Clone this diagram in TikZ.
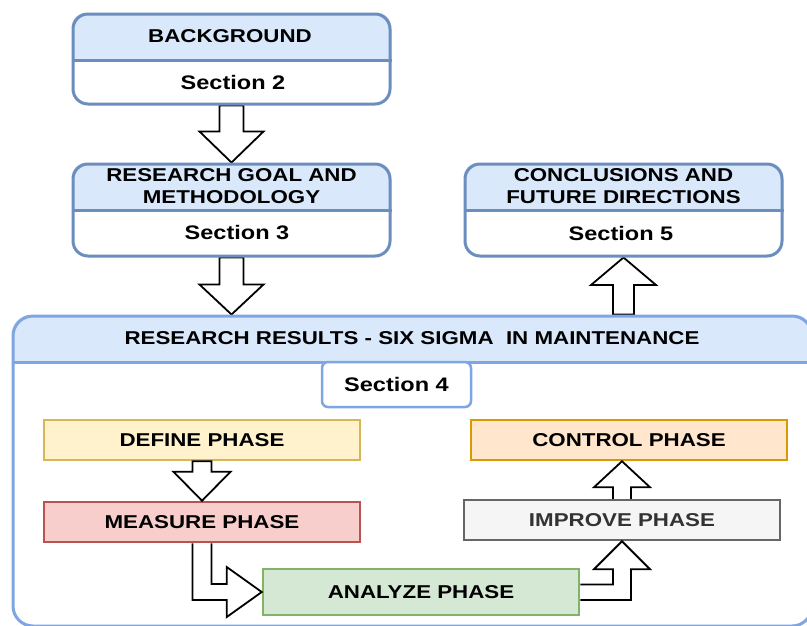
\documentclass[tikz,border=0pt]{standalone}
\usepackage{fontspec}
\setmainfont{Liberation Sans}[FakeStretch=1.2]
\usetikzlibrary{calc}
\definecolor{hdr}{HTML}{DAE8FC}
\definecolor{bst}{HTML}{6C8EBF}
\definecolor{bstb}{HTML}{7EA6E0}
\definecolor{defF}{HTML}{FFF2CC}\definecolor{defD}{HTML}{D6B656}
\definecolor{ctlF}{HTML}{FFE6CC}\definecolor{ctlD}{HTML}{D79B00}
\definecolor{meaF}{HTML}{F8CECC}\definecolor{meaD}{HTML}{B85450}
\definecolor{impF}{HTML}{F5F5F5}\definecolor{impD}{HTML}{666666}
\definecolor{anaF}{HTML}{D5E8D4}\definecolor{anaD}{HTML}{82B366}
\pgfdeclarelayer{back}
\pgfdeclarelayer{arrows}
\pgfsetlayers{back,arrows,main}
\newcommand\headfill[3]{% node, divider y, radius
  \begin{pgfonlayer}{back}
    \begin{scope}
      \clip[rounded corners=#3] (#1.north west) rectangle (#1.south east);
      \fill[white] (#1.north west) rectangle (#1.south east);
      \fill[hdr] (#1.north west) rectangle (#1.east |- 0,#2);
    \end{scope}
  \end{pgfonlayer}}
\begin{document}
\begin{tikzpicture}[x=1pt,y=-1pt,
  lbl/.style={font=\bfseries\fontsize{18.6}{22}\selectfont, align=center, inner sep=0},
  sec/.style={font=\bfseries\fontsize{19.6}{22}\selectfont, inner sep=0},
  frame/.style={draw=bst, line width=3pt, rounded corners=15pt, inner sep=0},
  phase/.style={line width=2.5pt, minimum width=316pt, minimum height=40pt, inner sep=0,
    font=\bfseries\fontsize{18.6}{22}\selectfont},
  blk/.style={draw=black, line width=1.8pt, fill=white, line join=miter}]
\clip (0,0) rectangle (807,625);
% top boxes
\node[frame, minimum width=317pt, minimum height=90pt] (bg) at (231.5,59) {};
\node[frame, minimum width=317pt, minimum height=92pt] (rg) at (231.5,210) {};
\node[frame, minimum width=317pt, minimum height=92pt] (cf) at (623.5,210) {};
\headfill{bg}{60}{15pt}
\headfill{rg}{210}{15pt}
\headfill{cf}{210}{15pt}
\draw[bst, line width=3pt] (bg.west |- 0,60) -- (bg.east |- 0,60);
\draw[bst, line width=3pt] (rg.west |- 0,210) -- (rg.east |- 0,210);
\draw[bst, line width=3pt] (cf.west |- 0,210) -- (cf.east |- 0,210);
\node[lbl] (bgt) at (230,36) {BACKGROUND};
\node[sec] (bgs) at (233,82) {Section 2};
\node[lbl] (rgt) at (231.5,186) {RESEARCH GOAL AND\\METHODOLOGY};
\node[sec] (rgs) at (237,233) {Section 3};
\node[lbl] (cft) at (623.5,186) {CONCLUSIONS AND\\FUTURE DIRECTIONS};
\node[sec] (cfs) at (621,233) {Section 5};
% big box
\node[draw=bstb, line width=3pt, rounded corners=20pt, inner sep=0,
  minimum width=799pt, minimum height=310pt] (rr) at (412.5,471) {};
\headfill{rr}{362}{20pt}
\draw[bstb, line width=3pt] (rr.west |- 0,362) -- (rr.east |- 0,362);
\node[lbl] (rrt) at (412,338) {RESEARCH RESULTS - SIX SIGMA \ IN MAINTENANCE};
\node[draw=bstb, line width=2.5pt, rounded corners=6pt, fill=white, inner sep=0,
  minimum width=149pt, minimum height=45pt, sec] (s4) at (396.5,384.5) {Section 4};
% phases
\node[phase, draw=defD, fill=defF] (def) at (202,440) {DEFINE PHASE};
\node[phase, draw=ctlD, fill=ctlF] (ctl) at (629,440) {CONTROL PHASE};
\node[phase, draw=meaD, fill=meaF] (mea) at (202,522) {MEASURE PHASE};
\node[phase, draw=impD, fill=impF, text=black!80] (imp) at (622,520) {IMPROVE PHASE};
\node[phase, draw=anaD, fill=anaF, minimum height=46pt] (ana) at (421,592) {ANALYZE PHASE};
% arrows
\begin{pgfonlayer}{arrows}
\draw[blk] ($(bg.south)+(-12,0)$) -- ($(bg.south)+(12,0)$) -- ($(rg.north)+(12,-31)$)
  -- ($(rg.north)+(32,-31)$) -- (rg.north) -- ($(rg.north)+(-32,-31)$)
  -- ($(rg.north)+(-12,-31)$) -- cycle;
\coordinate (t2) at (rg.south |- rr.north);
\draw[blk] ($(rg.south)+(-12,0)$) -- ($(rg.south)+(12,0)$) -- ($(t2)+(12,-30)$)
  -- ($(t2)+(32,-30)$) -- (t2) -- ($(t2)+(-32,-30)$) -- ($(t2)+(-12,-30)$) -- cycle;
\coordinate (b3) at (cf.south |- rr.north);
\draw[blk] ($(b3)+(-10.5,0)$) -- ($(b3)+(10.5,0)$) -- ($(cf.south)+(10.5,27.5)$)
  -- ($(cf.south)+(32.5,27.5)$) -- (cf.south) -- ($(cf.south)+(-32.5,27.5)$)
  -- ($(cf.south)+(-10.5,27.5)$) -- cycle;
\end{pgfonlayer}
\draw[blk] ($(def.south)+(-9.5,0)$) -- ($(def.south)+(9.5,0)$) -- ($(mea.north)+(9.5,-29)$)
  -- ($(mea.north)+(28.5,-29)$) -- (mea.north) -- ($(mea.north)+(-28.5,-29)$)
  -- ($(mea.north)+(-9.5,-29)$) -- cycle;
\coordinate (c1) at (mea.south |- ana.west);
\draw[blk] ($(mea.south)+(-9.5,0)$) -- ($(c1)+(-9.5,8)$) -- ($(ana.west)+(-35,8)$)
  -- ($(ana.west)+(-35,25)$) -- (ana.west) -- ($(ana.west)+(-35,-25)$)
  -- ($(ana.west)+(-35,-8)$) -- ($(c1)+(9.5,-8)$) -- ($(mea.south)+(9.5,0)$);
\coordinate (c2) at (imp.south |- ana.east);
\draw[blk] ($(ana.east)+(0,-7.5)$) -- ($(c2)+(-9,-7.5)$) -- ($(imp.south)+(-9,28)$)
  -- ($(imp.south)+(-28,28)$) -- (imp.south) -- ($(imp.south)+(28,28)$)
  -- ($(imp.south)+(9,28)$) -- ($(c2)+(9,8)$) -- ($(ana.east)+(0,8)$);
\coordinate (t6) at (imp.north |- ctl.south);
\draw[blk] ($(imp.north)+(-9,0)$) -- ($(t6)+(-9,26)$) -- ($(t6)+(-28,26)$) -- (t6)
  -- ($(t6)+(28,26)$) -- ($(t6)+(9,26)$) -- ($(imp.north)+(9,0)$);
\end{tikzpicture}
\end{document}
